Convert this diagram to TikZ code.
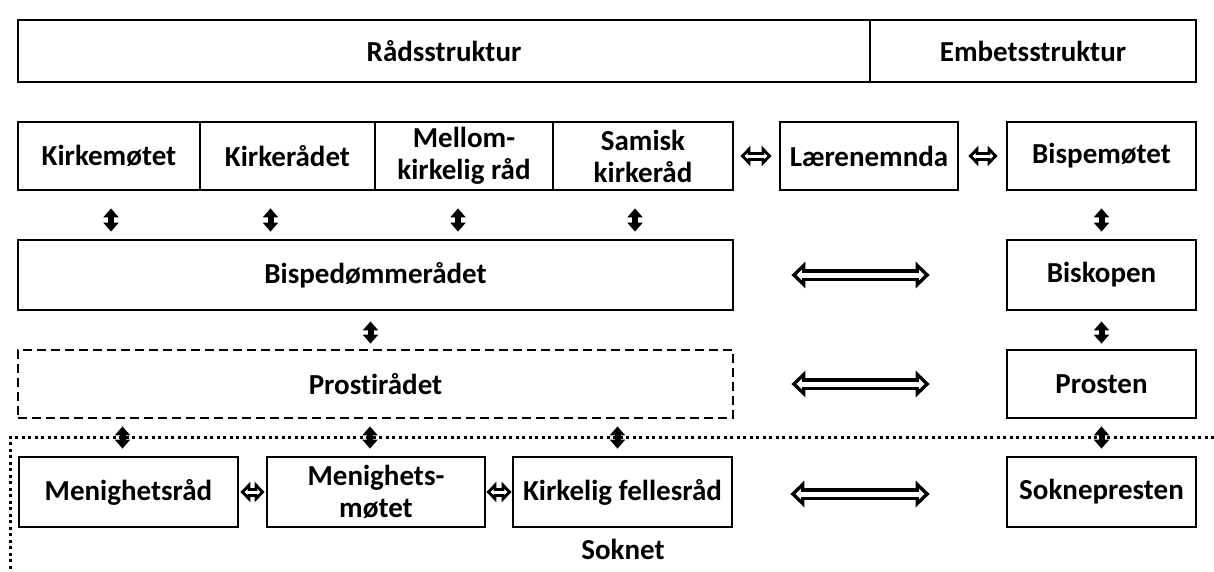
\documentclass[tikz,border=0pt]{standalone}
\usepackage{fontspec}
\setmainfont{Carlito}[Ligatures=NoCommon]
\usetikzlibrary{arrows.meta,positioning}

\begin{document}
\begin{tikzpicture}[x=1pt,y=-1pt,
  box/.style={draw,line width=2.8pt,minimum height=68pt,inner sep=0pt,
              align=center,font=\fontsize{29}{32}\selectfont\bfseries},
  updown/.style={{Triangle[length=9pt,width=15pt]}-{Triangle[length=9pt,width=15pt]},
                 line width=6pt},
  bigarr/.style 2 args={draw=black,line width=12pt,shorten <=#1,shorten >=#2,
                 {Triangle[length=14pt,width=26pt]}-{Triangle[length=14pt,width=26pt]},
                 postaction={draw=white,line width=5pt,shorten <=#1+5.1pt,shorten >=#2+5.1pt,
                 {Triangle[length=5.4pt,width=10pt]}-{Triangle[length=5.4pt,width=10pt]}}},
  smallarr/.style 2 args={draw=black,line width=9pt,shorten <=#1,shorten >=#2,
                 {Triangle[length=10pt,width=20pt]}-{Triangle[length=10pt,width=20pt]},
                 postaction={draw=white,line width=3pt,shorten <=#1+4.2pt,shorten >=#2+4.2pt,
                 {Triangle[length=3pt,width=6pt]}-{Triangle[length=3pt,width=6pt]}}},
]
\useasboundingbox (0,0) rectangle (1214,571);
% header
\node[box,minimum width=852pt,minimum height=62pt] (raad) at (444,51) {Rådsstruktur};
\node[box,minimum width=326pt,minimum height=62pt] (embet) at (1033,51) {Embetsstruktur};
% national level
\node[box,minimum width=182pt] (kmote) at (109,156) {Kirkemøtet};
\node[box,minimum width=175pt] (kraad) at (287.5,156) {Kirkerådet};
\node[box,minimum width=178pt] (mkr) at (464,156) {Mellom-\\kirkelig råd};
\node[box,minimum width=180pt] (samisk) at (643,156) {Samisk\\kirkeråd};
\node[box,minimum width=178pt] (laere) at (869,156) {Lærenemnda};
\node[box,minimum width=189pt] (bmote) at (1101.5,156) {Bispemøtet};
% diocese
\node[box,minimum width=715pt,minimum height=70pt] (bdr) at (375.5,275) {Bispedømmerådet};
\node[box,minimum width=189pt,minimum height=70pt] (bisk) at (1101.5,275) {Biskopen};
% deanery
\node[box,dash pattern=on 9pt off 5pt,minimum width=715pt] (prost) at (375.5,384) {Prostirådet};
\node[box,minimum width=189pt] (prosten) at (1101.5,384) {Prosten};
% parish
\node[box,minimum width=219pt,minimum height=70pt] (mr) at (128.5,492) {Menighetsråd};
\node[box,minimum width=218pt,minimum height=70pt] (mm) at (376,492) {Menighets-\\møtet};
\node[box,minimum width=219pt,minimum height=70pt] (kf) at (622.5,492) {Kirkelig fellesråd};
\node[box,minimum width=189pt,minimum height=70pt] (sokp) at (1101.5,492) {Soknepresten};
\node[font=\fontsize{29}{32}\selectfont\bfseries] (soknet) at (623,549) {Soknet};

% horizontal links
\path[smallarr={6pt}{7pt}] (samisk.east) -- (laere.west);
\path[smallarr={9pt}{8pt}] (laere.east) -- (bmote.west);
\path[bigarr={57pt}{76pt}] (bdr.east) -- (bisk.west);
\path[bigarr={57pt}{76pt}] (prost.east) -- (prosten.west);
\path[bigarr={57pt}{76pt}] ([yshift=-2pt]kf.east) -- ([yshift=-2pt]sokp.west);
\path[smallarr={1pt}{1pt}] (mr.east) -- (mm.west);
\path[smallarr={0pt}{0pt}] (mm.east) -- (kf.west);

% vertical links
\draw[updown,shorten <=17pt,shorten >=7pt] ([xshift=2pt]kmote.south) -- ([xshift=2pt]kmote.south |- bdr.north);
\draw[updown,shorten <=17pt,shorten >=7pt] ([xshift=-17pt]kraad.south) -- ([xshift=-17pt]kraad.south |- bdr.north);
\draw[updown,shorten <=17pt,shorten >=7pt] ([xshift=-6pt]mkr.south) -- ([xshift=-6pt]mkr.south |- bdr.north);
\draw[updown,shorten <=17pt,shorten >=7pt] ([xshift=-8pt]samisk.south) -- ([xshift=-8pt]samisk.south |- bdr.north);
\draw[updown,shorten <=17pt,shorten >=7pt] (bmote.south) -- (bisk.north);
\draw[updown,shorten <=10pt,shorten >=5pt] ([xshift=-5pt]bdr.south) -- ([xshift=-5pt]prost.north);
\draw[updown,shorten <=10pt,shorten >=5pt] (bisk.south) -- (prosten.north);
\draw[updown,shorten <=7pt,shorten >=7pt] ([xshift=-6pt]mr.north |- prost.south) -- ([xshift=-6pt]mr.north);
\draw[updown,shorten <=7pt,shorten >=7pt] ([xshift=-6pt]mm.north |- prost.south) -- ([xshift=-6pt]mm.north);
\draw[updown,shorten <=7pt,shorten >=7pt] ([xshift=-5pt]kf.north |- prost.south) -- ([xshift=-5pt]kf.north);
\draw[updown,shorten <=7pt,shorten >=7pt] (prosten.south) -- (sokp.north);

% parish boundary
\draw[line width=3pt,dash pattern=on 3pt off 3.5pt] (1214,437) -- (10,437) -- (10,571);
\end{tikzpicture}
\end{document}
